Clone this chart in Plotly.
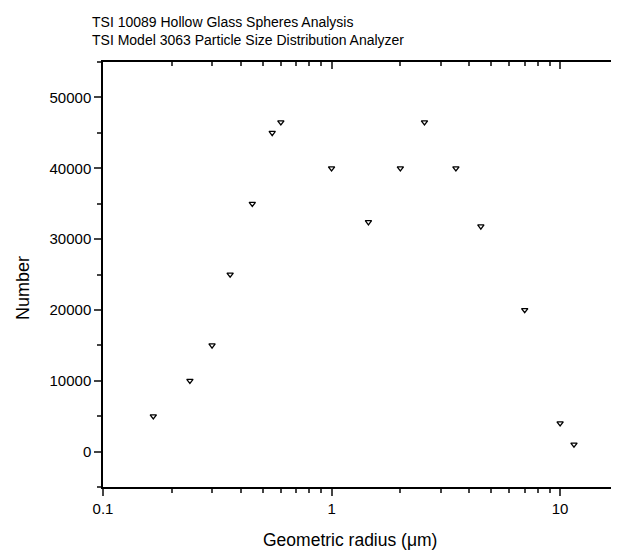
import numpy as np
import plotly.graph_objects as go

# Particle size distribution
radius = [0.166, 0.24, 0.30, 0.36, 0.45, 0.55, 0.60, 1.0, 1.45, 2.0, 2.55,
          3.5, 4.5, 7.0, 10.0, 11.5]
number = [5000, 10000, 15000, 25000, 35000, 45000, 46500, 40000, 32400,
          40000, 46500, 40000, 31800, 20000, 4000, 1000]

x_major = [0.1, 1, 10]
x_labels = ["0.1", "1", "10"]
x_minor = [m * d for d in (0.1, 1, 10) for m in range(2, 10)]

xr = [-1, np.log10(18.1)]
font = "Liberation Sans, Arial, sans-serif"

# page body has an 8px margin, so the figure is 8px smaller than the window
W, H = 611, 544
L, T, B = 95, 54, 65
PW, PH = W - L, H - T - B

fig = go.Figure()
fig.add_trace(go.Scatter(
    x=radius, y=number, mode="markers",
    marker=dict(symbol="triangle-down-open", size=5.5, color="black",
                line=dict(width=1.3, color="black")),
    showlegend=False,
))
# dummy trace so the top axis is drawn
fig.add_trace(go.Scatter(x=[1], y=[0], xaxis="x2", mode="markers",
                         marker=dict(opacity=0), showlegend=False,
                         hoverinfo="skip"))

fig.update_layout(
    width=W, height=H,
    margin=dict(l=L, r=0, t=T, b=B, autoexpand=False),
    paper_bgcolor="white", plot_bgcolor="white",
    font=dict(family=font, color="black"),
    title=dict(
        text="TSI 10089 Hollow Glass Spheres Analysis<br>"
             "TSI Model 3063 Particle Size Distribution Analyzer",
        x=84 / W, xanchor="left", xref="container",
        y=1 - 19 / H, yanchor="top", yref="container",
        font=dict(size=14, family=font),
    ),
    xaxis=dict(
        type="log", range=xr, automargin=False,
        tickvals=x_major, ticktext=x_labels,
        ticks="outside", ticklen=7, tickwidth=1.5,
        showline=True, linewidth=1.5, linecolor="black",
        showgrid=False, zeroline=False,
        tickfont=dict(size=15),
        minor=dict(tickvals=x_minor, ticks="outside", ticklen=4,
                   tickwidth=1.5, showgrid=False),
    ),
    xaxis2=dict(
        type="log", range=xr, overlaying="x", side="top", automargin=False,
        tickvals=x_major, showticklabels=False,
        ticks="inside", ticklen=7, tickwidth=1.5,
        showline=True, linewidth=1.5, linecolor="black",
        showgrid=False, zeroline=False,
        minor=dict(tickvals=x_minor, ticks="inside", ticklen=4,
                   tickwidth=1.5, showgrid=False),
    ),
    yaxis=dict(
        range=[-5000, 55000], dtick=10000, tick0=0, tickformat="d",
        automargin=False,
        ticks="outside", ticklen=7, tickwidth=1.5,
        showline=True, linewidth=1.5, linecolor="black",
        showgrid=False, zeroline=False,
        tickfont=dict(size=15),
        minor=dict(dtick=5000, ticks="outside", ticklen=4, tickwidth=1.5,
                   showgrid=False),
    ),
    annotations=[
        dict(text="Geometric radius (μm)", xref="paper", yref="paper",
             x=(350 - 8 - L) / PW, y=-(540 - 487) / PH,
             xanchor="center", yanchor="middle", showarrow=False,
             font=dict(size=17.5)),
        dict(text="Number", xref="paper", yref="paper",
             x=(23 - 8 - L) / PW, y=(487 - 288) / PH, textangle=-90,
             xanchor="center", yanchor="middle", showarrow=False,
             font=dict(size=18)),
    ],
)

fig.write_html("out.html")
